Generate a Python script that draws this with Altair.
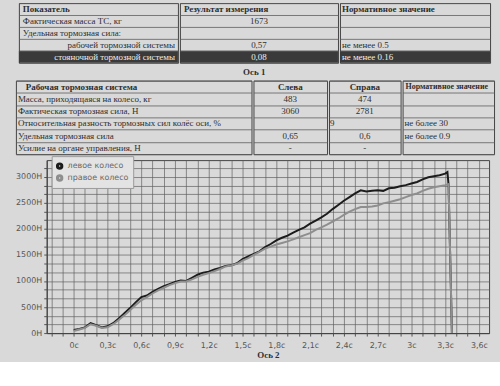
import altair as alt
import pandas as pd

SERIF = "Liberation Serif"
SANS = "DejaVu Sans"
INK = "#2e2e2e"
GRID = "#5e5e5e"
PAPER = "#d9d9d9"
WHITE = "#eeeeee"

# ---------------- table 1 ----------------
t1_indicator = ["Показатель", "Фактическая масса ТС, кг", "Удельная тормозная сила:",
                "рабочей тормозной системы", "стояночной тормозной системы"]
t1_result = ["Результат измерения", "1673", "", "0,57", "0,08"]
t1_norm = ["Нормативное значение", "", "", "не менее 0.5", "не менее 0.16"]

# ---------------- table 2 ----------------
t2_param = ["Рабочая тормозная система", "Масса, приходящаяся на колесо, кг",
            "Фактическая тормозная сила, Н",
            "Относительная разность тормозных сил колёс оси, %",
            "Удельная тормозная сила", "Усилие на органе управления, Н"]
t2_left = ["Слева", "483", "3060", "", "0,65", "-"]
t2_right = ["Справа", "474", "2781", "", "0,6", "-"]
t2_merged = ["", "", "", "9", "", ""]
t2_norm = ["Нормативное значение", "", "", "не более 30", "не более 0.9", ""]

# ---------------- braking force curves ----------------
times = [0.00, 0.05, 0.10, 0.15, 0.20, 0.25, 0.30, 0.35, 0.40, 0.45, 0.50, 0.55,
         0.60, 0.65, 0.70, 0.75, 0.80, 0.85, 0.90, 0.95, 1.00, 1.05, 1.10, 1.15,
         1.20, 1.25, 1.30, 1.35, 1.40, 1.45, 1.50, 1.55, 1.60, 1.65, 1.70, 1.75,
         1.80, 1.85, 1.90, 1.95, 2.00, 2.05, 2.10, 2.15, 2.20, 2.25, 2.30, 2.35,
         2.40, 2.45, 2.50, 2.55, 2.60, 2.65, 2.70, 2.75, 2.80, 2.85, 2.90, 2.95,
         3.00, 3.05, 3.10, 3.15, 3.20, 3.25, 3.30]
left_force = [60, 80, 110, 190, 150, 110, 130, 190, 280, 380, 480, 590,
              690, 720, 790, 850, 900, 940, 980, 1010, 1000, 1060, 1120, 1160,
              1180, 1220, 1250, 1290, 1300, 1340, 1420, 1470, 1520, 1570, 1650, 1710,
              1780, 1830, 1870, 1930, 1980, 2030, 2100, 2160, 2220, 2290, 2380, 2460,
              2540, 2610, 2680, 2740, 2720, 2730, 2740, 2730, 2780, 2790, 2820, 2840,
              2870, 2900, 2950, 2990, 3010, 3030, 3060]
right_force = [40, 70, 100, 170, 140, 100, 110, 170, 250, 340, 440, 540,
               630, 690, 760, 820, 870, 920, 960, 990, 990, 1030, 1080, 1120,
               1150, 1190, 1230, 1280, 1300, 1330, 1390, 1440, 1500, 1560, 1620, 1660,
               1700, 1730, 1760, 1800, 1840, 1880, 1920, 1980, 2030, 2080, 2140, 2200,
               2270, 2330, 2380, 2420, 2420, 2430, 2450, 2490, 2510, 2540, 2570, 2610,
               2650, 2680, 2730, 2770, 2800, 2820, 2840]
left_tail_t = [3.32, 3.33, 3.36]
left_tail_f = [3090, 2850, 0]
right_tail_t = [3.33, 3.36]
right_tail_f = [2860, 0]

series_names = ["левое колесо", "правое колесо"]
series_colors = ["#1c1c1c", "#8e8e8e"]

x_ticks = [round(k / 10, 1) for k in range(-2, 37)]
y_ticks = [round(k * 500 / 3, 2) for k in range(20)]


def spacer(width, height):
    return (
        alt.Chart(pd.DataFrame({"v": [0]}))
        .mark_text(text="", baseline="middle", fontSize=4)
        .encode(x=alt.value(0), y=alt.value(height / 2))
        .properties(width=width, height=height,
                    view=alt.ViewBackground(strokeOpacity=0))
    )


def table_column(df, width, height, nrows, parts, hl_row=None):
    yenc = alt.Y(
        "row:O", title=None,
        scale=alt.Scale(domain=list(range(nrows)), paddingInner=0, paddingOuter=0),
        axis=alt.Axis(labels=False, ticks=False, domain=False, grid=True,
                      gridColor=GRID, gridWidth=0.8, tickBand="extent",
                      minExtent=0, maxExtent=0),
    )
    base = alt.Chart(df).encode(y=yenc)
    layers = []
    if hl_row is not None:
        layers.append(
            base.transform_filter(f"datum.row == {hl_row}")
            .mark_rect(color="#3a3a3a")
            .encode(x=alt.value(0), x2=alt.value(width))
        )
    for field, flt, align, xpos, bold, color, size in parts:
        layers.append(
            base.transform_filter(flt)
            .mark_text(align=align, baseline="middle", font=SERIF, fontSize=size,
                       fontWeight="bold" if bold else "normal", color=color)
            .encode(x=alt.value(xpos), text=f"{field}:N")
        )
    return alt.layer(*layers).properties(width=width, height=height)


df1 = pd.DataFrame({"row": list(range(5)), "ind": t1_indicator,
                    "res": t1_result, "norm": t1_norm})
W1 = [160, 159, 151]
table1 = alt.hconcat(
    spacer(4, 60),
    table_column(df1, W1[0], 60, 5, [
        ("ind", "datum.row == 0", "left", 4, True, INK, 9),
        ("ind", "datum.row == 1 || datum.row == 2", "left", 4, False, INK, 9),
        ("ind", "datum.row == 3", "right", W1[0] - 3, False, INK, 9),
        ("ind", "datum.row == 4", "right", W1[0] - 3, False, WHITE, 9),
    ], hl_row=4),
    table_column(df1, W1[1], 60, 5, [
        ("res", "datum.row == 0", "left", 4, True, INK, 9),
        ("res", "datum.row > 0 && datum.row < 4", "center", W1[1] / 2, False, INK, 9),
        ("res", "datum.row == 4", "center", W1[1] / 2, False, WHITE, 9),
    ], hl_row=4),
    table_column(df1, W1[2], 60, 5, [
        ("norm", "datum.row == 0", "left", 2, True, INK, 9),
        ("norm", "datum.row > 0 && datum.row < 4", "left", 2, False, INK, 9),
        ("norm", "datum.row == 4", "left", 2, False, WHITE, 9),
    ], hl_row=4),
    spacing=0,
)

df2 = pd.DataFrame({"row": list(range(6)), "par": t2_param, "l": t2_left,
                    "r": t2_right, "m": t2_merged, "norm": t2_norm})
W2 = [237, 74, 72, 92]
table2 = alt.hconcat(
    spacer(1, 74),
    table_column(df2, W2[0], 74, 6, [
        ("par", "datum.row == 0", "left", 10, True, INK, 9),
        ("par", "datum.row > 0", "left", 2, False, INK, 9),
    ]),
    table_column(df2, W2[1], 74, 6, [
        ("l", "datum.row == 0", "center", W2[1] / 2, True, INK, 9),
        ("l", "datum.row > 0", "center", W2[1] / 2, False, INK, 9),
    ]),
    table_column(df2, W2[2], 74, 6, [
        ("r", "datum.row == 0", "center", W2[2] / 2, True, INK, 9),
        ("r", "datum.row > 0", "center", W2[2] / 2, False, INK, 9),
        ("m", "datum.row > 0", "left", 1, False, INK, 9),
    ]),
    table_column(df2, W2[3], 74, 6, [
        ("norm", "datum.row == 0", "left", 3, True, INK, 8),
        ("norm", "datum.row > 0", "left", 2, False, INK, 9),
    ]),
    spacing=0,
).properties(
    title=alt.TitleParams("Ось 1", font=SERIF, fontSize=9, fontWeight="bold",
                          color=INK, anchor="middle", offset=3)
)

# ---------------- line chart ----------------
df_left = pd.DataFrame({"t": times + left_tail_t, "f": left_force + left_tail_f,
                        "wheel": series_names[0]})
df_right = pd.DataFrame({"t": times + right_tail_t, "f": right_force + right_tail_f,
                         "wheel": series_names[1]})

x_enc = alt.X(
    "t:Q",
    scale=alt.Scale(domain=[-0.24, 3.69], nice=False, zero=False),
    axis=alt.Axis(
        values=x_ticks, title="Ось 2", titleFont=SERIF, titleFontSize=9,
        titleFontWeight="bold", titleColor=INK, titlePadding=2,
        labelExpr="(abs(datum.value*10/3 - round(datum.value*10/3)) < 0.01 && datum.value > -0.01)"
                  " ? replace(format(datum.value, '.1~f'), '.', ',') + 'с' : ''",
        labelFont=SANS, labelFontSize=8, labelColor="#555", labelPadding=5,
        tickSize=3, tickColor="#555", domainColor="#444",
        gridColor=GRID, gridWidth=0.8, gridOpacity=0.85, labelFlush=False,
    ),
)
y_enc = alt.Y(
    "f:Q",
    scale=alt.Scale(domain=[0, 3320], nice=False),
    axis=alt.Axis(
        values=y_ticks, title=None,
        labelExpr="abs(datum.value/500 - round(datum.value/500)) < 0.01"
                  " ? format(datum.value, 'd') + 'Н' : ''",
        labelFont=SANS, labelFontSize=8, labelColor="#555", labelPadding=2,
        tickSize=3, tickColor="#555", domainColor="#444",
        gridColor=GRID, gridWidth=0.8, gridOpacity=0.85,
        minExtent=30, maxExtent=30,
    ),
)
color_enc = alt.Color(
    "wheel:N",
    scale=alt.Scale(domain=series_names, range=series_colors),
    legend=alt.Legend(
        orient="none", legendX=38, legendY=154, title=None, symbolType="circle",
        symbolSize=20, symbolStrokeWidth=3, labelFont=SANS, labelFontSize=8,
        labelColor="#666", fillColor="#e3e3e3", strokeColor="#9a9a9a",
        padding=4, rowPadding=0, clipHeight=12, direction="vertical",
    ),
)

line_left = alt.Chart(df_left).mark_line(strokeWidth=2).encode(
    x=x_enc, y=y_enc, color=color_enc)
line_right = alt.Chart(df_right).mark_line(strokeWidth=2).encode(
    x=x_enc, y=y_enc, color=color_enc)
plot = alt.layer(line_left, line_right).properties(width=445, height=174)
chart_row = alt.hconcat(spacer(1, 174), plot, spacing=0)

chart = (
    alt.vconcat(table1, table2, chart_row, spacing=4)
    .properties(padding={"left": 14, "top": 1, "right": 5, "bottom": 0})
    .configure(background=PAPER)
    .configure_view(stroke="#444", strokeWidth=1)
)

chart.save("out.html", embed_options={"renderer": "svg", "actions": False})
